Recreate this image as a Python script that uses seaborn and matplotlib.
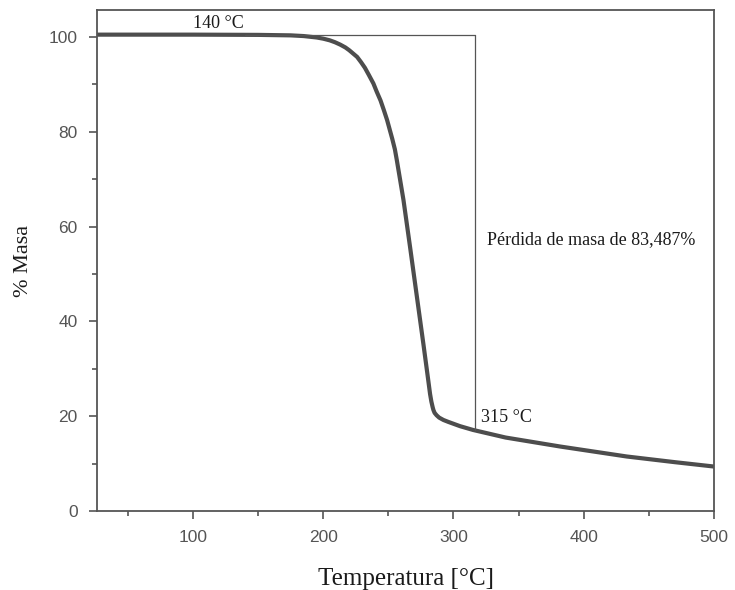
import matplotlib
matplotlib.use("Agg")
import matplotlib.pyplot as plt
import seaborn as sns
import pandas as pd
from matplotlib.ticker import MultipleLocator

temperature = [26.5, 50, 100, 150, 175, 185, 195, 200, 205, 209, 213, 217, 220, 223, 226, 229, 232,
               235, 238.5, 241, 244, 246.5, 249, 251, 253, 255, 256.5, 259, 261.6, 264, 266.7,
               269, 271.8, 274, 277, 279, 280.8, 282, 283, 284, 284.6, 285.5, 287, 289, 292.3,
               296, 300, 305, 315, 340, 382, 433, 470, 501]
mass = [100.5, 100.5, 100.5, 100.45, 100.35, 100.2, 99.9, 99.65, 99.3, 98.9, 98.4, 97.8, 97.2, 96.5,
        95.8, 94.7, 93.5, 92.0, 90.2, 88.5, 86.6, 84.6, 82.5, 80.5, 78.5, 76.3, 74.0, 69.9, 65.6,
        60.9, 55.6, 51.0, 45.4, 41.0, 35.0, 30.9, 27.2, 24.7, 23.1, 21.9, 21.3, 20.7, 20.2, 19.7,
        19.2, 18.8, 18.4, 17.9, 17.1, 15.5, 13.6, 11.5, 10.3, 9.35]

df = pd.DataFrame({"T": temperature, "M": mass})

sns.set_theme(style="ticks")
plt.rcParams['font.family'] = ['Liberation Sans', 'DejaVu Sans']

fig = plt.figure(figsize=(7.35, 5.9), dpi=100)
ax = fig.add_axes([97/735, 1 - 511/590, (714-97)/735, (511-10)/590])

sns.lineplot(data=df, x="T", y="M", ax=ax, color="#4d4d4d", linewidth=3.0, sort=False)

# annotation box lines
ax.plot([140, 316.5], [100.5, 100.5], color="#555555", linewidth=0.9)
ax.plot([316.5, 316.5], [100.5, 17.0], color="#555555", linewidth=0.9)

serif = ['Liberation Serif', 'DejaVu Serif']
ax.text(100, 101.0, "140 °C", family=serif, fontsize=13, color="#1a1a1a", va="bottom", ha="left")
ax.text(321, 17.9, "315 °C", family=serif, fontsize=13, color="#1a1a1a", va="bottom", ha="left")
ax.text(326, 57.3, "Pérdida de masa de 83,487%", family=serif, fontsize=13, color="#1a1a1a",
        va="center", ha="left")

ax.set_xlim(26.3, 500)
ax.set_ylim(0, 105.7)
ax.xaxis.set_major_locator(MultipleLocator(100))
ax.xaxis.set_minor_locator(MultipleLocator(50))
ax.yaxis.set_major_locator(MultipleLocator(20))
ax.yaxis.set_minor_locator(MultipleLocator(10))
ax.tick_params(axis="both", which="major", direction="out", length=6, width=1.2,
               colors="#555555", labelsize=12.5, labelcolor="#555555", pad=8)
ax.tick_params(axis="both", which="minor", direction="out", length=3.5, width=1.2, colors="#555555")
ax.tick_params(top=False, right=False, which="both")

for s in ax.spines.values():
    s.set_visible(True)
    s.set_color("#555555")
    s.set_linewidth(1.3)

ax.set_xlabel("Temperatura [°C]", family=serif, fontsize=18, color="#1a1a1a", labelpad=16)
ax.set_ylabel("% Masa", family=serif, fontsize=16, color="#1a1a1a", labelpad=11)

fig.savefig("out.png", dpi=100)
